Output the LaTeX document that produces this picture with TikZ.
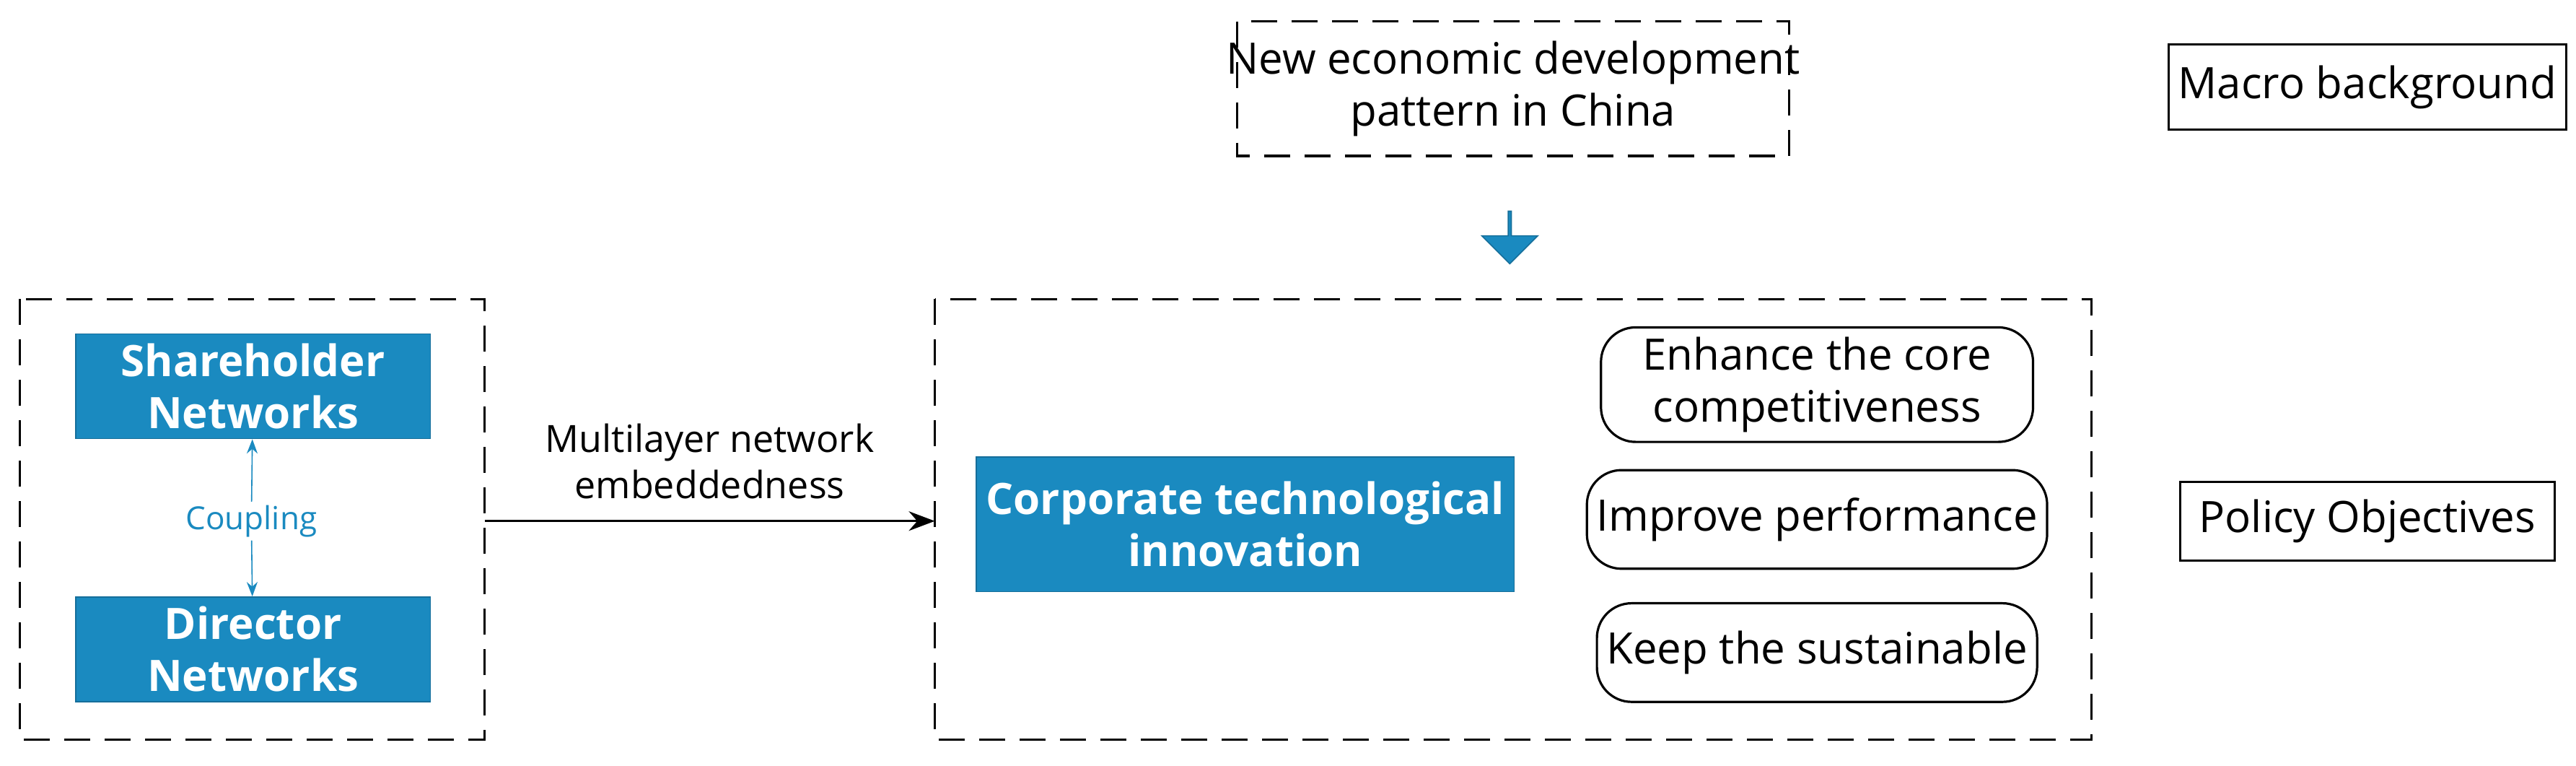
\documentclass[tikz,border=0pt]{standalone}
\usepackage{fontspec}
\setmainfont{Open Sans}
\usetikzlibrary{arrows.meta,shapes.arrows}
\definecolor{bl}{HTML}{1A8AC0}
\begin{document}
\begin{tikzpicture}[x=0.02cm,y=-0.02cm,
 dbox/.style={draw,dashed,dash pattern=on 9pt off 5pt,line width=0.9pt},
 pbox/.style={draw,line width=0.8pt,font=\fontsize{15}{18}\selectfont},
 bbox/.style={fill=bl,draw=bl!80!black,text=white,font=\bfseries\fontsize{15}{18}\selectfont,align=center},
 rbox/.style={draw,rounded corners=12pt,line width=0.8pt,font=\fontsize{15}{18}\selectfont,align=center}]
\useasboundingbox (0,0) rectangle (1568,466);
\draw[dbox] (753,13) rectangle (1089,95);
\node[font=\fontsize{15}{18}\selectfont,align=center] (top) at (921,54) {New economic development\\pattern in China};
\node[pbox,minimum width=228*0.02cm,minimum height=52*0.02cm] (macro) at (1441,53) {Macro background};
\node[single arrow,draw=bl!80!black,fill=bl,shape border rotate=270,minimum height=32*0.02cm,minimum width=34*0.02cm,single arrow head extend=0.12cm,inner sep=0pt] (da) at (919,144) {};
\draw[dbox] (12,182) rectangle (295,450);
\coordinate (lr) at (295,317);
\node[bbox,minimum width=216*0.02cm,minimum height=62*0.02cm] (sh) at (154,235) {Shareholder\\Networks};
\node[bbox,minimum width=216*0.02cm,minimum height=62*0.02cm] (di) at (154,395) {Director\\Networks};
\node[text=bl,font=\fontsize{11}{13}\selectfont,fill=white,inner sep=1pt] (cp) at (153,317) {Coupling};
\draw[bl,-{Stealth[length=5pt]}] (cp) -- (sh);
\draw[bl,-{Stealth[length=5pt]}] (cp) -- (di);
\draw[dbox] (569,182) rectangle (1273,450);
\coordinate (rl) at (569,317);
\draw[line width=0.8pt,-{Stealth[length=9pt]}] (lr) -- node[above=4pt,font=\fontsize{13}{16}\selectfont,align=center]{Multilayer network\\embeddedness} (rl);
\node[bbox,minimum width=309*0.02cm,minimum height=82*0.02cm] (ci) at (758,319) {Corporate technological\\innovation};
\node[rbox,minimum width=263*0.02cm,minimum height=62*0.02cm] (r1) at (1106,234) {Enhance the core\\competitiveness};
\node[rbox,minimum width=263*0.02cm,minimum height=60*0.02cm] (r2) at (1106,316) {Improve performance};
\node[rbox,minimum width=263*0.02cm,minimum height=60*0.02cm] (r3) at (1106,397) {Keep the sustainable};
\node[pbox,minimum width=228*0.02cm,minimum height=48*0.02cm] (po) at (1441,317) {Policy Objectives};
\end{tikzpicture}
\end{document}
